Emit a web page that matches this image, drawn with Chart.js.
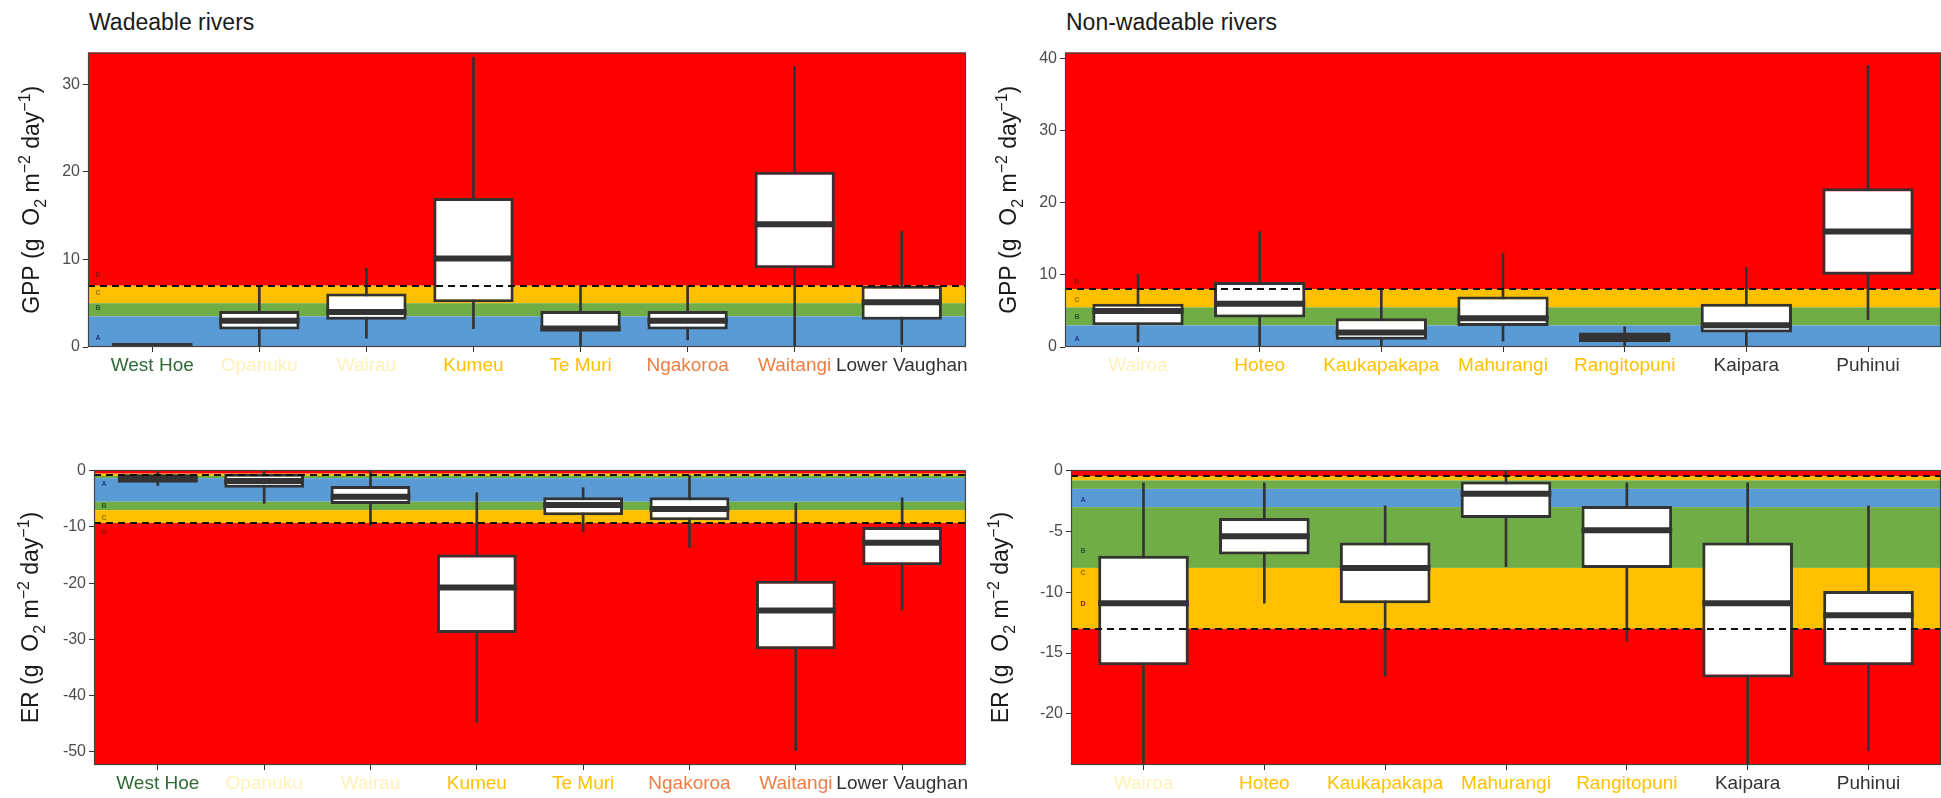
<!DOCTYPE html>
<html>
<head>
<meta charset="utf-8">
<title>River metabolism grades</title>
<script src="https://cdn.jsdelivr.net/npm/chart.js@4.4.1/dist/chart.umd.min.js"></script>
<style>
  html, body { margin: 0; padding: 0; background: #fff; }
  #page { position: relative; width: 1941px; height: 798px; overflow: hidden; background: #fff;
          font-family: 'Liberation Sans', Arial, sans-serif; }
  .panel { position: absolute; }
  .panel canvas { display: block; }
  .heading { position: absolute; top: 11px; font-size: 23px; line-height: 23px; color: #1a1a1a; white-space: nowrap; }
</style>
</head>
<body>
<div id="page">
  <div class="heading" style="left:89px">Wadeable rivers</div>
  <div class="heading" style="left:1066px">Non-wadeable rivers</div>
  <div class="panel" style="left:0px;top:40px;width:970px;height:360px"><canvas id="gppWade"></canvas></div>
  <div class="panel" style="left:970px;top:40px;width:971px;height:360px"><canvas id="gppNonWade"></canvas></div>
  <div class="panel" style="left:0px;top:420px;width:970px;height:378px"><canvas id="erWade"></canvas></div>
  <div class="panel" style="left:970px;top:420px;width:971px;height:378px"><canvas id="erNonWade"></canvas></div>
</div>
<script>
// ---- Sites ----
const wadeableRivers = ['West Hoe', 'Opanuku', 'Wairau', 'Kumeu', 'Te Muri', 'Ngakoroa', 'Waitangi', 'Lower Vaughan'];
const wadeableLabelColours = ['#2f6b35', '#fff1b8', '#fff1b8', '#ffc000', '#ffc000', '#ee7d45', '#ee7d45', '#333333'];
const nonWadeableRivers = ['Wairoa', 'Hoteo', 'Kaukapakapa', 'Mahurangi', 'Rangitopuni', 'Kaipara', 'Puhinui'];
const nonWadeableLabelColours = ['#fff1b8', '#ffc000', '#ffc000', '#ffc000', '#ffc000', '#333333', '#333333'];

// ---- GPP, wadeable (g O2 m-2 day-1) ----
const gppWadeMin    = [0,   0,   1.0, 2.1,  0,   0.8, 0,    0.3];
const gppWadeQ1     = [0,   2.0, 3.1, 5.1,  1.8, 2.0, 9.0,  3.1];
const gppWadeMedian = [0.1, 3.0, 4.0, 10.1, 2.1, 3.0, 14.0, 5.1];
const gppWadeQ3     = [0.3, 4.1, 6.1, 17.0, 4.1, 4.1, 20.0, 7.0];
const gppWadeMax    = [0.3, 7.0, 9.0, 33.1, 7.0, 7.0, 32.0, 13.2];

// ---- GPP, non-wadeable ----
const gppNonWadeMin    = [0.7,  0,    0,   0.8,  0,   0,    3.8];
const gppNonWadeQ1     = [3.0,  4.1,  1.0, 2.9,  0.7, 2.0,  10.0];
const gppNonWadeMedian = [5.0,  6.0,  2.0, 4.0,  1.4, 3.0,  16.0];
const gppNonWadeQ3     = [6.0,  9.0,  4.0, 7.0,  2.0, 6.0,  22.0];
const gppNonWadeMax    = [10.1, 16.0, 8.0, 13.0, 2.8, 11.0, 39.0];

// ---- ER, wadeable ----
const erWadeMin    = [-2.6, -5.8, -9.7, -44.8, -10.9, -13.6, -49.8, -24.8];
const erWadeQ1     = [-2.1, -3.0, -5.9, -28.9, -7.9,  -8.8,  -31.8, -16.8];
const erWadeMedian = [-1.4, -1.8, -4.6, -20.8, -6.1,  -6.8,  -24.9, -12.8];
const erWadeQ3     = [-0.6, -0.5, -2.7, -14.9, -4.7,  -4.7,  -19.6, -10.0];
const erWadeMax    = [-0.2, -0.1, 0,    -3.9,  -3.0,  -0.8,  -5.8,  -4.8];

// ---- ER, non-wadeable ----
const erNonWadeMin    = [-24.2, -10.9, -16.9, -7.9, -14.0, -24.2, -23.0];
const erNonWadeQ1     = [-16.0, -6.9,  -10.9, -3.9, -8.0,  -17.0, -16.0];
const erNonWadeMedian = [-10.9, -5.4,  -8.0,  -1.9, -4.9,  -10.9, -11.9];
const erNonWadeQ3     = [-7.0,  -3.9,  -5.9,  -0.9, -2.9,  -5.9,  -9.9];
const erNonWadeMax    = [-1.0,  -1.0,  -2.9,  0,    -1.0,  -1.0,  -2.9];

// ---- Axis ranges and ticks ----
const gppWadeRange = [0, 33.6];
const gppNonWadeRange = [0, 40.8];
const erWadeRange = [-52.4, 0.15];
const erNonWadeRange = [-24.2, 0.05];
const gppWadeTicks = [0, 10, 20, 30];
const gppNonWadeTicks = [0, 10, 20, 30, 40];
const erWadeTicks = [-50, -40, -30, -20, -10, 0];
const erNonWadeTicks = [-20, -15, -10, -5, 0];

// ---- Grade bands: [upper, lower, grade] ----
const gppWadeBands = [[1000, 7, 'D'], [7, 5, 'C'], [5, 3.5, 'B'], [3.5, -1000, 'A']];
const gppNonWadeBands = [[1000, 8, 'D'], [8, 5.5, 'C'], [5.5, 3, 'B'], [3, -1000, 'A']];
const erWadeBands = [[1000, -0.5, 'D'], [-0.5, -0.9, 'C'], [-0.9, -1.3, 'B'], [-1.3, -5.5, 'A'],
                     [-5.5, -7.0, 'B'], [-7.0, -9.3, 'C'], [-9.3, -1000, 'D']];
const erNonWadeBands = [[1000, -0.45, 'D'], [-0.45, -0.8, 'C'], [-0.8, -1.5, 'B'], [-1.5, -3.0, 'A'],
                        [-3.0, -8.0, 'B'], [-8.0, -13.0, 'C'], [-13.0, -1000, 'D']];
// Grade letters and where they sit on the value axis
const gppWadeGradeMarks = [['A', 1.06], ['B', 4.4], ['C', 6.1], ['D', 8.2]];
const gppNonWadeGradeMarks = [['A', 1.07], ['B', 4.1], ['C', 6.5], ['D', 9.0]];
const erWadeGradeMarks = [['A', -2.4], ['B', -6.2], ['C', -8.4], ['D', -10.9]];
const erNonWadeGradeMarks = [['A', -2.4], ['B', -6.6], ['C', -8.4], ['D', -11.0]];
// Grade limits drawn as dashed lines
const gppWadeLimits = [7];
const gppNonWadeLimits = [8];
const erWadeLimits = [-0.7, -9.3];
const erNonWadeLimits = [-0.45, -13];

const gradeFill = { A: '#5b9bd5', B: '#70ad47', C: '#ffc000', D: '#ff0000' };
const gradeInk = { A: '#1f3f8f', B: '#2d5a2d', C: '#8a6a00', D: '#8b1010' };
const FONT = "'Liberation Sans', Arial, sans-serif";
const INK = '#333333';

Chart.defaults.font.family = FONT;

const panelSpecs = {};

// Grade bands behind the boxes, dashed limits and panel frame on top
const gradeBandsPlugin = {
  id: 'gradeBands',
  beforeDatasetsDraw(chart) {
    const spec = panelSpecs[chart.canvas.id];
    const { ctx, chartArea: a } = chart;
    const y = chart.scales.y;
    ctx.save();
    ctx.beginPath();
    ctx.rect(a.left, a.top, a.right - a.left, a.bottom - a.top);
    ctx.clip();
    for (const [hi, lo, g] of spec.bands) {
      const y1 = y.getPixelForValue(hi), y2 = y.getPixelForValue(lo);
      ctx.fillStyle = gradeFill[g];
      ctx.fillRect(a.left, y1, a.right - a.left, y2 - y1);
    }
    ctx.font = 'bold 7px ' + FONT;
    ctx.textAlign = 'center';
    ctx.textBaseline = 'middle';
    for (const [g, v] of spec.marks) {
      ctx.fillStyle = gradeInk[g];
      ctx.fillText(g, a.left + spec.markDx, y.getPixelForValue(v));
    }
    ctx.restore();
  },
  afterDatasetsDraw(chart) {
    const spec = panelSpecs[chart.canvas.id];
    const { ctx, chartArea: a } = chart;
    const y = chart.scales.y;
    ctx.save();
    ctx.strokeStyle = '#111';
    ctx.lineWidth = 2;
    ctx.setLineDash([7, 5]);
    for (const v of spec.limits) {
      const py = Math.round(y.getPixelForValue(v));
      ctx.beginPath();
      ctx.moveTo(a.left, py);
      ctx.lineTo(a.right, py);
      ctx.stroke();
    }
    ctx.setLineDash([]);
    ctx.strokeStyle = '#444';
    ctx.lineWidth = 1.2;
    ctx.strokeRect(a.left + 0.5, a.top + 0.5, a.right - a.left - 1, a.bottom - a.top - 1);
    ctx.restore();
  }
};

// Rotated value-axis title with sub- and superscripts
const richTitlePlugin = {
  id: 'richTitle',
  afterDraw(chart) {
    const spec = panelSpecs[chart.canvas.id];
    const { ctx, chartArea: a } = chart;
    const size = 23, small = 16;
    const parts = [
      { t: spec.quantity + ' (g  O' }, { t: '2', s: 'sub' }, { t: ' m' }, { t: '\u22122', s: 'sup' },
      { t: ' day' }, { t: '\u22121', s: 'sup' }, { t: ')' }
    ];
    let total = 0;
    for (const p of parts) {
      ctx.font = (p.s ? small : size) + 'px ' + FONT;
      p.w = ctx.measureText(p.t).width;
      total += p.w;
    }
    ctx.save();
    ctx.translate(spec.titleX, (a.top + a.bottom) / 2);
    ctx.rotate(-Math.PI / 2);
    ctx.fillStyle = '#1a1a1a';
    ctx.textBaseline = 'alphabetic';
    ctx.textAlign = 'left';
    let x = -total / 2;
    const base = size * 0.36;
    for (const p of parts) {
      ctx.font = (p.s ? small : size) + 'px ' + FONT;
      const dy = p.s === 'sub' ? size * 0.28 : p.s === 'sup' ? -size * 0.42 : 0;
      ctx.fillText(p.t, x, base + dy);
      x += p.w;
    }
    ctx.restore();
  }
};

Chart.register(gradeBandsPlugin, richTitlePlugin);

function boxPanel(id, spec) {
  panelSpecs[id] = spec;
  const canvas = document.getElementById(id);
  const W = canvas.parentNode.clientWidth, H = canvas.parentNode.clientHeight;
  const n = spec.labels.length;
  const span = (lo, hi) => lo.map((v, i) => ({ x: i, y: [v, hi[i]] }));
  const axisGrid = {
    display: true, drawOnChartArea: false, drawTicks: true, tickLength: 5,
    color: INK, tickColor: INK, lineWidth: 1, offset: false
  };
  return new Chart(canvas, {
    type: 'bar',
    data: {
      datasets: [
        { label: 'whisker', data: span(spec.min, spec.max), backgroundColor: INK, borderWidth: 0,
          barThickness: 2, grouped: false, order: 3, clip: 0 },
        { label: 'box', data: span(spec.q1, spec.q3), backgroundColor: '#ffffff', borderColor: INK,
          borderWidth: 3, borderSkipped: false, barPercentage: 0.75, categoryPercentage: 1,
          grouped: false, order: 2 },
        { type: 'line', label: 'median', data: spec.median.map((v, i) => ({ x: i, y: v })),
          showLine: false, pointStyle: 'line', pointBorderColor: INK, pointBackgroundColor: INK,
          pointBorderWidth: 6, order: 1,
          pointRadius: (c) => {
            const xs = c.chart.scales.x;
            return Math.abs(xs.getPixelForValue(1) - xs.getPixelForValue(0)) * 0.75 / 2;
          } }
      ]
    },
    options: {
      responsive: true,
      maintainAspectRatio: false,
      animation: false,
      events: [],
      layout: { padding: { top: spec.area.top, right: W - spec.area.right, bottom: 0, left: 0 } },
      plugins: { legend: { display: false }, tooltip: { enabled: false } },
      scales: {
        x: {
          type: 'linear', min: -0.6, max: n - 0.4, offset: false,
          grid: axisGrid, border: { display: false },
          afterBuildTicks: (s) => { s.ticks = spec.labels.map((_, i) => ({ value: i })); },
          afterFit: (s) => { s.height = H - spec.area.bottom; },
          ticks: {
            autoSkip: false, maxRotation: 0, minRotation: 0, padding: 2,
            font: { size: 19 },
            color: (c) => spec.colours[c.index],
            callback: (v) => spec.labels[Math.round(v)]
          }
        },
        y: {
          type: 'linear', min: spec.range[0], max: spec.range[1],
          grid: axisGrid, border: { display: false },
          afterBuildTicks: (s) => { s.ticks = spec.ticks.map((v) => ({ value: v })); },
          afterFit: (s) => { s.width = spec.area.left; },
          ticks: { padding: 3, font: { size: 16 }, color: '#4d4d4d' }
        }
      }
    }
  });
}

boxPanel('gppWade', {
  quantity: 'GPP', labels: wadeableRivers, colours: wadeableLabelColours,
  min: gppWadeMin, q1: gppWadeQ1, median: gppWadeMedian, q3: gppWadeQ3, max: gppWadeMax,
  range: gppWadeRange, ticks: gppWadeTicks, bands: gppWadeBands, marks: gppWadeGradeMarks,
  limits: gppWadeLimits, area: { left: 88, top: 11, right: 966, bottom: 307 }, titleX: 31, markDx: 10
});
boxPanel('gppNonWade', {
  quantity: 'GPP', labels: nonWadeableRivers, colours: nonWadeableLabelColours,
  min: gppNonWadeMin, q1: gppNonWadeQ1, median: gppNonWadeMedian, q3: gppNonWadeQ3, max: gppNonWadeMax,
  range: gppNonWadeRange, ticks: gppNonWadeTicks, bands: gppNonWadeBands, marks: gppNonWadeGradeMarks,
  limits: gppNonWadeLimits, area: { left: 95, top: 11, right: 971, bottom: 307 }, titleX: 38, markDx: 12
});
boxPanel('erWade', {
  quantity: 'ER', labels: wadeableRivers, colours: wadeableLabelColours,
  min: erWadeMin, q1: erWadeQ1, median: erWadeMedian, q3: erWadeQ3, max: erWadeMax,
  range: erWadeRange, ticks: erWadeTicks, bands: erWadeBands, marks: erWadeGradeMarks,
  limits: erWadeLimits, area: { left: 94, top: 50, right: 970, bottom: 345 }, titleX: 30, markDx: 10
});
boxPanel('erNonWade', {
  quantity: 'ER', labels: nonWadeableRivers, colours: nonWadeableLabelColours,
  min: erNonWadeMin, q1: erNonWadeQ1, median: erNonWadeMedian, q3: erNonWadeQ3, max: erNonWadeMax,
  range: erNonWadeRange, ticks: erNonWadeTicks, bands: erNonWadeBands, marks: erNonWadeGradeMarks,
  limits: erNonWadeLimits, area: { left: 101, top: 50, right: 971, bottom: 345 }, titleX: 30, markDx: 12
});
</script>
</body>
</html>
